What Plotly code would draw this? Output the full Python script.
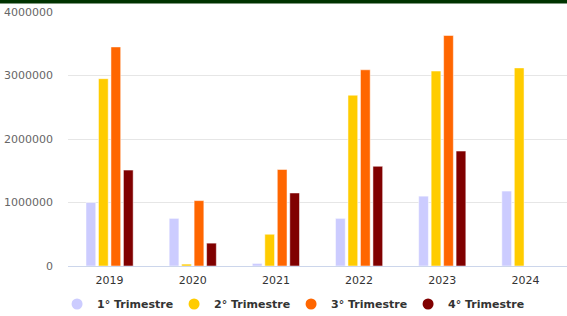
import plotly.graph_objects as go

years = ["2019", "2020", "2021", "2022", "2023", "2024"]
series_names = ["1° Trimestre", "2° Trimestre", "3° Trimestre", "4° Trimestre"]
q1 = [1000000, 750000, 40000, 750000, 1100000, 1180000]
q2 = [2950000, 30000, 500000, 2690000, 3070000, 3120000]
q3 = [3450000, 1030000, 1520000, 3090000, 3630000, None]
q4 = [1510000, 360000, 1150000, 1570000, 1810000, None]
colors = ["#ccccff", "#ffcc00", "#ff6600", "#800000"]
y_ticks = [0, 1000000, 2000000, 3000000, 4000000]

fig = go.Figure()
for name, vals, c in zip(series_names, [q1, q2, q3, q4], colors):
    fig.add_trace(go.Bar(x=years, y=vals, name=name, marker=dict(color=c, line=dict(color="white", width=0.5)),
                         showlegend=False))
for name, c in zip(series_names, colors):
    fig.add_trace(go.Scatter(x=[None], y=[None], mode="markers", name=name,
                             marker=dict(symbol="circle", size=11, color=c)))

fig.update_layout(
    width=567, height=316,
    margin=dict(l=68, r=0, t=12, b=50),
    paper_bgcolor="white", plot_bgcolor="white",
    barmode="group", bargap=0.4, bargroupgap=0.22,
    font=dict(family="DejaVu Sans", size=11, color="#333"),
    legend=dict(orientation="h", x=0.447, xanchor="center", yref="container", y=0.038, yanchor="middle",
                font=dict(family="DejaVu Sans", size=11, color="#333", weight="bold"),
                entrywidth=72, entrywidthmode="pixels"),
    shapes=[dict(type="rect", xref="paper", yref="paper", x0=-0.2, x1=1.1,
                 y0=1 + 8.5 / 254, y1=1 + 16.0 / 254, fillcolor="#003300", line=dict(width=0), layer="above")],
)
fig.update_xaxes(showgrid=False, showline=True, linecolor="#ccd6eb", linewidth=1, automargin=False,
                 tickfont=dict(color="#333", size=11), ticks="", ticklabelstandoff=4)
fig.update_yaxes(range=[0, 4000000], tickvals=y_ticks, tickformat="d", showgrid=True, gridcolor="#e6e6e6",
                 zeroline=False, showline=False, tickfont=dict(color="#666", size=11), automargin=False,
                 ticklabelstandoff=14)

fig.write_html("out.html", config={"displayModeBar": False},
               post_script="document.body.style.margin='0';document.body.style.overflow='hidden';")
